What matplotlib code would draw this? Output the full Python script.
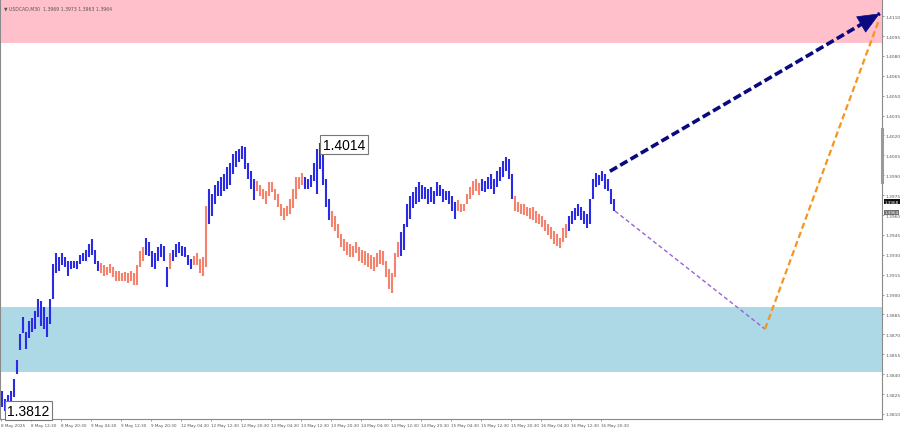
import numpy as np
import matplotlib
matplotlib.use("Agg")
import matplotlib.pyplot as plt
import matplotlib.transforms as mtransforms

plt.rcParams['lines.scale_dashes'] = False

# ---------------- data (USDCAD, M30) ----------------
highs = [1.3827, 1.3821, 1.3824, 1.3827, 1.3836, 1.3851, 1.3870, 1.3883, 1.3872, 1.3880,
         1.3882, 1.3888, 1.3897, 1.3895, 1.3891, 1.3883, 1.3897, 1.3923, 1.3931, 1.3928,
         1.3931, 1.3928, 1.3925, 1.3925, 1.3925, 1.3925, 1.3930, 1.3931, 1.3934, 1.3938,
         1.3942, 1.3934, 1.3925, 1.3924, 1.3922, 1.3921, 1.3923, 1.3921, 1.3918, 1.3918,
         1.3916, 1.3917, 1.3916, 1.3918, 1.3916, 1.3922, 1.3933, 1.3936, 1.3943, 1.3940,
         1.3933, 1.3931, 1.3936, 1.3938, 1.3937, 1.3921, 1.3931, 1.3934, 1.3938, 1.3940,
         1.3937, 1.3936, 1.3930, 1.3927, 1.3929, 1.3931, 1.3927, 1.3928, 1.3967, 1.3980,
         1.3976, 1.3983, 1.3986, 1.3989, 1.3991, 1.3996, 1.3999, 1.4006, 1.4008, 1.4010,
         1.4012, 1.4011, 1.3999, 1.3993, 1.3987, 1.3986, 1.3983, 1.3980, 1.3978, 1.3985,
         1.3985, 1.3980, 1.3976, 1.3968, 1.3965, 1.3967, 1.3972, 1.3980, 1.3989, 1.3989,
         1.3992, 1.3989, 1.3987, 1.3990, 1.3999, 1.4010, 1.4014, 1.4006, 1.3987, 1.3972,
         1.3963, 1.3959, 1.3953, 1.3946, 1.3942, 1.3940, 1.3938, 1.3937, 1.3940, 1.3936,
         1.3934, 1.3933, 1.3931, 1.3930, 1.3928, 1.3931, 1.3934, 1.3933, 1.3925, 1.3919,
         1.3916, 1.3931, 1.3940, 1.3947, 1.3953, 1.3968, 1.3974, 1.3977, 1.3981, 1.3985,
         1.3983, 1.3981, 1.3980, 1.3981, 1.3978, 1.3985, 1.3983, 1.3980, 1.3978, 1.3978,
         1.3974, 1.3970, 1.3971, 1.3968, 1.3968, 1.3976, 1.3981, 1.3986, 1.3987, 1.3984,
         1.3987, 1.3986, 1.3989, 1.3991, 1.3987, 1.3993, 1.3996, 1.4001, 1.4004, 1.4002,
         1.3991, 1.3974, 1.3970, 1.3968, 1.3968, 1.3966, 1.3965, 1.3966, 1.3963, 1.3961,
         1.3959, 1.3956, 1.3953, 1.3951, 1.3948, 1.3946, 1.3943, 1.3950, 1.3953, 1.3959,
         1.3963, 1.3965, 1.3968, 1.3966, 1.3963, 1.3961, 1.3972, 1.3987, 1.3992, 1.3990,
         1.3993, 1.3991, 1.3987, 1.3980, 1.3972]
lows = [1.3815, 1.3812, 1.3815, 1.3818, 1.3823, 1.3840, 1.3858, 1.3871, 1.3859, 1.3867,
        1.3872, 1.3874, 1.3883, 1.3876, 1.3874, 1.3868, 1.3878, 1.3897, 1.3916, 1.3918,
        1.3922, 1.3921, 1.3914, 1.3919, 1.3920, 1.3919, 1.3923, 1.3925, 1.3925, 1.3928,
        1.3930, 1.3923, 1.3918, 1.3916, 1.3914, 1.3915, 1.3916, 1.3913, 1.3910, 1.3910,
        1.3910, 1.3910, 1.3909, 1.3910, 1.3907, 1.3907, 1.3921, 1.3925, 1.3930, 1.3929,
        1.3921, 1.3919, 1.3925, 1.3928, 1.3925, 1.3906, 1.3919, 1.3925, 1.3928, 1.3931,
        1.3929, 1.3928, 1.3922, 1.3919, 1.3922, 1.3922, 1.3916, 1.3914, 1.3921, 1.3953,
        1.3959, 1.3968, 1.3974, 1.3974, 1.3978, 1.3980, 1.3983, 1.3991, 1.3996, 1.4000,
        1.4002, 1.3995, 1.3987, 1.3980, 1.3971, 1.3978, 1.3974, 1.3972, 1.3968, 1.3974,
        1.3977, 1.3971, 1.3966, 1.3959, 1.3956, 1.3959, 1.3961, 1.3965, 1.3972, 1.3980,
        1.3983, 1.3980, 1.3980, 1.3981, 1.3986, 1.3976, 1.3995, 1.3983, 1.3966, 1.3956,
        1.3951, 1.3948, 1.3943, 1.3936, 1.3933, 1.3930, 1.3928, 1.3928, 1.3931, 1.3925,
        1.3924, 1.3922, 1.3921, 1.3919, 1.3918, 1.3921, 1.3923, 1.3922, 1.3913, 1.3904,
        1.3901, 1.3913, 1.3928, 1.3929, 1.3934, 1.3951, 1.3957, 1.3965, 1.3968, 1.3970,
        1.3972, 1.3972, 1.3968, 1.3970, 1.3968, 1.3974, 1.3974, 1.3970, 1.3971, 1.3968,
        1.3963, 1.3957, 1.3963, 1.3962, 1.3963, 1.3968, 1.3972, 1.3975, 1.3978, 1.3975,
        1.3978, 1.3977, 1.3980, 1.3980, 1.3976, 1.3981, 1.3986, 1.3989, 1.3993, 1.3987,
        1.3972, 1.3963, 1.3962, 1.3961, 1.3960, 1.3959, 1.3957, 1.3956, 1.3954, 1.3953,
        1.3951, 1.3948, 1.3945, 1.3942, 1.3938, 1.3937, 1.3935, 1.3940, 1.3943, 1.3948,
        1.3953, 1.3956, 1.3959, 1.3956, 1.3953, 1.3950, 1.3953, 1.3972, 1.3981, 1.3983,
        1.3986, 1.3980, 1.3978, 1.3968, 1.3963]

# wave segments (start bar index) alternating up (blue) / down (salmon)
wave_starts = [0, 33, 48, 56, 57, 64, 69, 85, 101, 110, 133, 152, 160, 171, 189]
wave_colors = ['up', 'down'] * 8

time_labels = ['8 May 2025', '8 May 12:30', '8 May 20:30', '9 May 04:30', '9 May 12:30',
               '9 May 20:30', '12 May 04:30', '12 May 12:30', '12 May 20:30', '13 May 04:30',
               '13 May 12:30', '13 May 20:30', '14 May 04:30', '14 May 12:30', '14 May 20:30',
               '15 May 04:30', '15 May 12:30', '15 May 20:30', '16 May 04:30', '16 May 12:30',
               '16 May 20:30']
price_ticks = [1.3810, 1.3825, 1.3840, 1.3855, 1.3870, 1.3885, 1.3900, 1.3915, 1.3930,
               1.3945, 1.3960, 1.3975, 1.3990, 1.4005, 1.4020, 1.4035, 1.4050, 1.4065,
               1.4080, 1.4095, 1.4110]

resistance_zone = (1.4090, 1.4125)
support_zone = (1.3842, 1.3891)

# forecast paths (bar index, price)
fc_main_x = [202.8, 292.8]
fc_main_y = [1.3993, 1.4112]
fc_alt1_x = [204.5, 254.5]
fc_alt1_y = [1.3963, 1.3874]
fc_alt2_x = [254.5, 292.3]
fc_alt2_y = [1.3874, 1.4106]

high_label = "1.4014"
low_label = "1.3812"
header = "\u25BC USDCAD,M30  1.3969 1.3973 1.3963 1.3964"
ask_price, bid_price = "1.3968", "1.3964"

# ---------------- styles ----------------
COL_UP = '#2B2BE3'
COL_DN = '#F5826C'
PINK = '#FFC0CB'
LBLUE = '#ADD8E6'
AXC = '#8A8A8A'

fig = plt.figure(figsize=(9, 4.31), dpi=100)
ax = fig.add_axes([0.0, 11 / 431, 882 / 900, 420 / 431])

n = len(highs)
x = np.arange(n)
ax.set_xlim(-0.5, 293.5)
ax.set_ylim(1.38062, 1.41229)

# zones
ax.axhspan(resistance_zone[0], 1.42, color=PINK, lw=0, zorder=0)
ax.axhspan(support_zone[0], support_zone[1], color=LBLUE, lw=0, zorder=0)

# bars
bounds = wave_starts + [n]
for k in range(len(wave_starts)):
    s, e = bounds[k], bounds[k + 1]
    c = COL_UP if wave_colors[k] == 'up' else COL_DN
    ax.vlines(x[s:e], lows[s:e], highs[s:e], colors=c, lw=1.5, zorder=3)

# forecast lines
ax.plot(fc_alt1_x, fc_alt1_y, color='#9B63D6', lw=1.0, dashes=(3, 2), zorder=4)
ax.plot(fc_alt2_x, fc_alt2_y, color='#F7941D', lw=1.6, dashes=(4.5, 2.5), zorder=4)
ax.plot(fc_main_x, fc_main_y, color='#0A0A80', lw=2.6, dashes=(6, 2.6), zorder=5,
        solid_capstyle='butt', dash_capstyle='butt')
dx = fc_main_x[1] - fc_main_x[0]
dy = fc_main_y[1] - fc_main_y[0]
ax.annotate('', xy=(fc_main_x[1], fc_main_y[1]),
            xytext=(fc_main_x[1] - dx * 0.08, fc_main_y[1] - dy * 0.08),
            arrowprops=dict(arrowstyle='-|>,head_length=0.75,head_width=0.32',
                            color='#0A0A80', lw=0.5, mutation_scale=20,
                            shrinkA=0, shrinkB=0), zorder=6, annotation_clip=False)

# extreme labels
ih = int(np.argmax(highs))
il = int(np.argmin(lows))
box = dict(boxstyle='square,pad=0.18', fc='white', ec='#777777', lw=0.8)
ax.annotate(high_label, xy=(ih, highs[ih]), xytext=(2.5, -1), textcoords='offset points',
            ha='left', va='center', fontsize=10, family='Liberation Sans', bbox=box, zorder=7)
ax.annotate(low_label, xy=(il, lows[il]), xytext=(2.0, 0.5), textcoords='offset points',
            ha='left', va='center', fontsize=10, family='Liberation Sans', bbox=box, zorder=7,
            annotation_clip=False)

# header text
ax.text(0.004, 0.985, header, transform=ax.transAxes, fontsize=3.3, color='#555555',
        ha='left', va='top', zorder=8)

# axes styling
ax.spines['top'].set_visible(False)
for sp in ['left', 'right', 'bottom']:
    ax.spines[sp].set_color(AXC)
    ax.spines[sp].set_linewidth(0.8)
ax.yaxis.tick_right()
ax.set_yticks(price_ticks)
ax.set_yticklabels([f"{p:.4f}" for p in price_ticks])
ax.tick_params(axis='y', labelsize=3.2, labelcolor='#555555', color=AXC, length=1.5, pad=1.0, width=0.6)
xt = [10 * k - 0.3 for k in range(len(time_labels))]
ax.set_xticks(xt)
ax.set_xticklabels(time_labels, ha='left')
ax.tick_params(axis='x', labelsize=3.0, labelcolor='#555555', color=AXC, length=1.5, pad=1.5, width=0.6)

# scroll marker on price scale
trans = mtransforms.blended_transform_factory(ax.transAxes, ax.transData)
ax.plot([1.0, 1.0], [1.3985, 1.4025], transform=trans,
        color='#9A9A9A', lw=2.2, clip_on=False, zorder=8)

# current price boxes on the price scale
ax.text(1.003, 1.3970, ask_price, transform=trans, fontsize=3.0, color='white', ha='left', va='center',
        bbox=dict(boxstyle='square,pad=0.15', fc='#111111', ec='none'), clip_on=False, zorder=9)
ax.text(1.003, 1.3962, bid_price, transform=trans, fontsize=3.0, color='white', ha='left', va='center',
        bbox=dict(boxstyle='square,pad=0.15', fc='#6E6E6E', ec='none'), clip_on=False, zorder=9)

fig.savefig('out.png', dpi=100)
